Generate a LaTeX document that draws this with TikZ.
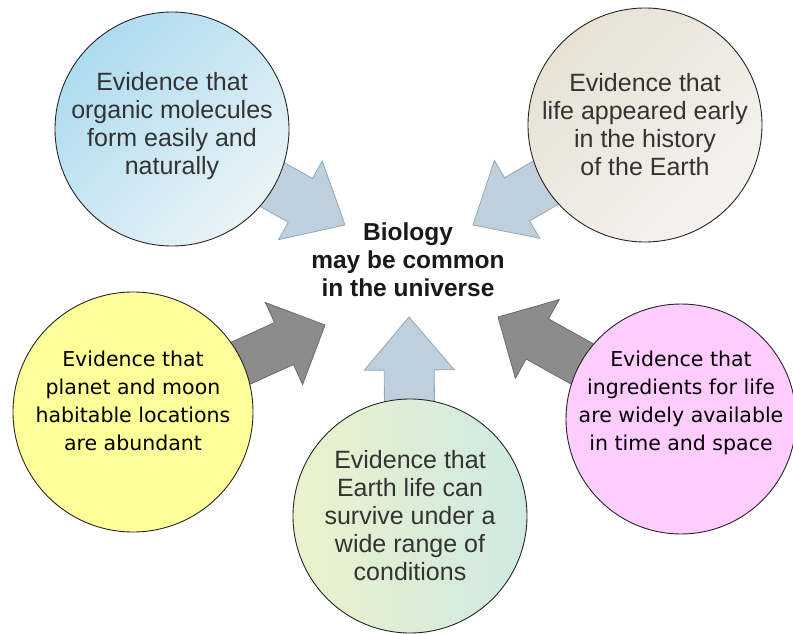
\documentclass[tikz,border=0pt]{standalone}
\usepackage{fontspec}
\setmainfont{Liberation Sans}
\newfontfamily\verdanafont{DejaVu Sans}
\usetikzlibrary{calc}
\usetikzlibrary{backgrounds}
\definecolor{skyblue}{HTML}{ADDBEF}
\definecolor{paleblue}{HTML}{EAF3F7}
\definecolor{sandA}{HTML}{E8E1D4}
\definecolor{sandB}{HTML}{F5F3EF}
\definecolor{lemon}{HTML}{FFFF99}
\definecolor{orchid}{HTML}{FFCCFF}
\definecolor{limeA}{HTML}{EAF2CB}
\definecolor{mintB}{HTML}{CFE9E2}
\definecolor{darktext}{HTML}{333333}
\definecolor{arrowblue}{HTML}{BFD0DC}
\definecolor{arrowblueline}{HTML}{8FA8BA}
\definecolor{arrowgrey}{HTML}{8C8C8C}
\definecolor{arrowgreyline}{HTML}{6A6A6A}
\newcommand{\BlockArrow}[5]{
\coordinate (h) at ($(#3)!#4!(#2)$);
\draw[#1] ($(#2)!#5!90:(#3)$) -- ($(h)!#5!-90:(#2)$) -- ($(h)!45pt!-90:(#2)$) -- (#3)
  -- ($(h)!45pt!90:(#2)$) -- ($(h)!#5!90:(#2)$) -- ($(#2)!#5!-90:(#3)$) -- cycle;
}

\begin{document}
\begin{tikzpicture}[x = 1pt, y = -1pt]
\tikzstyle{CircleStyle}=[shape = circle,
                         minimum size = 234pt,
                         inner sep = 0pt,
                         draw = black!85,
                         line width = 0.9pt,
                         align = center]
\tikzstyle{ThinText}=[text = darktext, font = \fontsize{25}{28}\selectfont]
\tikzstyle{PlainText}=[text = black, font = \verdanafont\fontsize{20.5}{28}\selectfont]
\tikzstyle{BlueArrow}=[fill = arrowblue, draw = arrowblueline, line width = 0.8pt]
\tikzstyle{GreyArrow}=[fill = arrowgrey, draw = arrowgreyline, line width = 0.8pt]
\useasboundingbox (0,0) rectangle (793,634);
\node[font = \bfseries\fontsize{24.5}{28}\selectfont, align = center, text = black!90] (biology) at (408,260) {Biology\\may be common\\in the universe};
\node[CircleStyle, ThinText, top color = skyblue, bottom color = paleblue, shading angle = 45, text depth = 12pt] (organic) at (172,129) {Evidence that\\organic molecules\\form easily and\\naturally};
\node[CircleStyle, ThinText, top color = sandA, bottom color = sandB, shading angle = 45] (early) at (645,125) {Evidence that\\life appeared early\\in the history\\of the Earth};
\node[CircleStyle, PlainText, fill = lemon, minimum size = 240pt, text depth = 22pt] (habitable) at (133,412) {Evidence that\\planet and moon\\habitable locations\\are abundant};
\node[CircleStyle, PlainText, fill = orchid, minimum size = 230pt, text height = 82pt, text depth = 20pt] (ingredients) at (681,419) {Evidence that\\ingredients for life\\are widely available\\in time and space};
\node[CircleStyle, ThinText, left color = limeA, right color = mintB] (survive) at (410,516) {Evidence that\\Earth life can\\survive under a\\wide range of\\conditions};
\coordinate (organictip) at (345,225);
\coordinate (earlytip) at (473,225);
\coordinate (habitabletip) at (325,325);
\coordinate (ingredientstip) at (498,317);
\coordinate (survivetip) at (409,317);
\begin{scope}[on background layer]
\BlockArrow{BlueArrow}{organic}{organictip}{51pt}{25pt}
\BlockArrow{BlueArrow}{early}{earlytip}{51pt}{25pt}
\BlockArrow{GreyArrow}{habitable}{habitabletip}{45pt}{23pt}
\BlockArrow{GreyArrow}{ingredients}{ingredientstip}{45pt}{23pt}
\BlockArrow{BlueArrow}{survive}{survivetip}{53pt}{25pt}
\end{scope}
\end{tikzpicture}
\end{document}
